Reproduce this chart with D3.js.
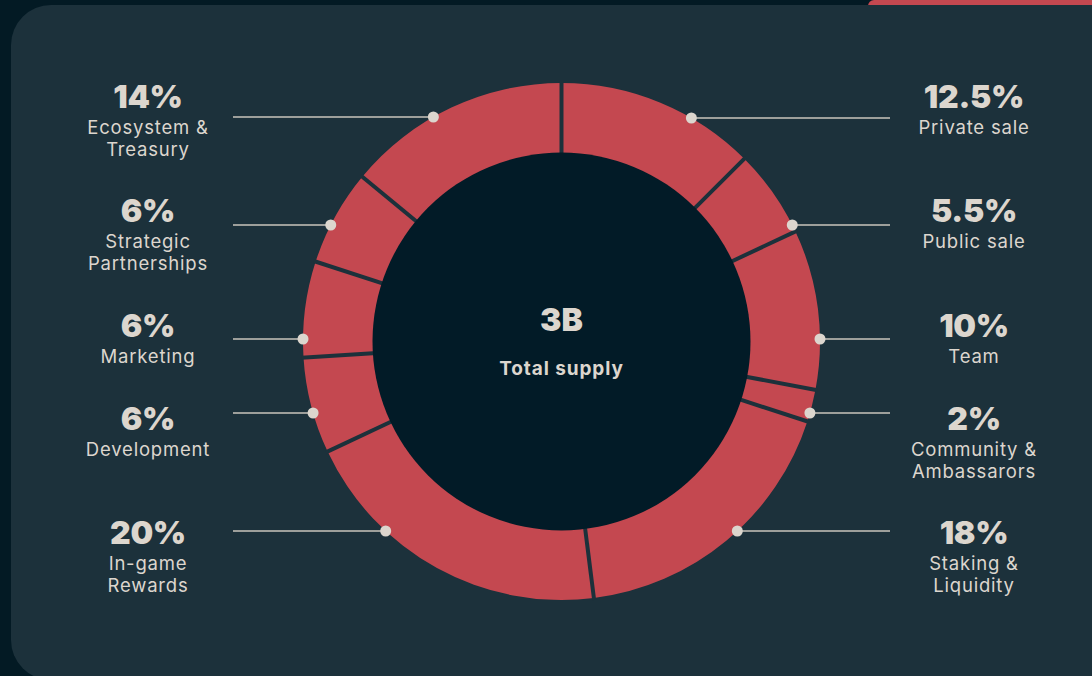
<!DOCTYPE html>
<html>
<head>
<meta charset="utf-8">
<script src="https://cdn.jsdelivr.net/npm/d3@7"></script>
<style>
  html, body { margin: 0; padding: 0; background: #031a24; overflow: hidden; }
  svg { display: block; font-family: "Inter", "Noto Sans", sans-serif; }
</style>
</head>
<body>
<div id="chart"></div>
<script>
// token allocation, clockwise from 12 o'clock
var names = ["Private sale", "Public sale", "Team", "Community & Ambassarors", "Staking & Liquidity",
             "In-game Rewards", "Development", "Marketing", "Strategic Partnerships", "Ecosystem & Treasury"];
var values = [12.5, 5.5, 10, 2, 18, 20, 6, 6, 6, 14];
var pctLabels = ["12.5%", "5.5%", "10%", "2%", "18%", "20%", "6%", "6%", "6%", "14%"];
var nameLines = [["Private sale"], ["Public sale"], ["Team"], ["Community &", "Ambassarors"], ["Staking &", "Liquidity"],
                 ["In-game", "Rewards"], ["Development"], ["Marketing"], ["Strategic", "Partnerships"], ["Ecosystem &", "Treasury"]];
var totalLabel = "3B";
var totalCaption = "Total supply";

// layout (not data): where each callout sits
var side = ["r", "r", "r", "r", "r", "l", "l", "l", "l", "l"];
var rowY = [118, 225, 339, 413, 531, 531, 413, 339, 225, 117];   // leader line
var textY = [108, 222, 337, 430, 544, 544, 430, 337, 222, 108];  // baseline of the % figure

var width = 1092,
    height = 676,
    cx = 561.5, cy = 341.5,
    outerR = 258.5, innerR = 189,
    cardBg = "#1c313b",
    red = "#c44850",
    txt = "#dcd6ce";

var svg = d3.select("#chart").append("svg")
    .attr("width", width)
    .attr("height", height);

svg.append("rect").attr("width", width).attr("height", height).attr("fill", "#031a24");
// red strip peeking above the card
svg.append("rect").attr("x", 868).attr("y", 0).attr("width", 260).attr("height", 40).attr("rx", 6).attr("fill", red);
svg.append("rect")
    .attr("x", 11).attr("y", 5)
    .attr("width", 1120).attr("height", 675)
    .attr("rx", 40)
    .attr("fill", cardBg);

var pie = d3.pie().sort(null).value(function(d) { return d; });
var arcs = pie(values);

var arc = d3.arc().innerRadius(innerR - 2).outerRadius(outerR);

var g = svg.append("g").attr("transform", "translate(" + cx + "," + cy + ")");

g.selectAll("path.slice")
  .data(arcs)
  .enter().append("path")
    .attr("class", "slice")
    .attr("d", arc)
    .attr("fill", red);

// separators between slices
g.selectAll("line.sep")
  .data(arcs)
  .enter().append("line")
    .attr("class", "sep")
    .attr("x1", function(d) { return Math.sin(d.startAngle) * (innerR - 4); })
    .attr("y1", function(d) { return -Math.cos(d.startAngle) * (innerR - 4); })
    .attr("x2", function(d) { return Math.sin(d.startAngle) * (outerR + 2); })
    .attr("y2", function(d) { return -Math.cos(d.startAngle) * (outerR + 2); })
    .attr("stroke", cardBg)
    .attr("stroke-width", 4);

g.append("circle").attr("r", innerR).attr("fill", "#021b27");

g.append("text")
    .attr("y", -10.5)
    .attr("text-anchor", "middle")
    .attr("fill", txt)
    .style("font-size", "32px")
    .style("font-weight", 900)
    .text(totalLabel);

g.append("text")
    .attr("y", 33.5)
    .attr("text-anchor", "middle")
    .attr("fill", txt)
    .style("font-size", "19px")
    .style("font-weight", 700)
    .style("letter-spacing", "0.9px")
    .text(totalCaption);

// callouts
var callouts = svg.selectAll("g.callout")
  .data(values.map(function(v, i) { return i; }))
  .enter().append("g")
    .attr("class", "callout");

function dotX(i) {
  var dy = rowY[i] - cy;
  var dx = Math.sqrt(outerR * outerR - dy * dy);
  return side[i] == "l" ? cx - dx : cx + dx;
}

callouts.append("line")
    .attr("x1", function(i) { return side[i] == "l" ? 233 : 890; })
    .attr("x2", function(i) { return dotX(i); })
    .attr("y1", function(i) { return rowY[i]; })
    .attr("y2", function(i) { return rowY[i]; })
    .attr("stroke", "#c9c4bc")
    .attr("stroke-width", 1.5);

callouts.append("circle")
    .attr("cx", function(i) { return dotX(i); })
    .attr("cy", function(i) { return rowY[i]; })
    .attr("r", 5.5)
    .attr("fill", "#dcd6ce");

callouts.append("text")
    .attr("x", function(i) { return side[i] == "l" ? 148 : 974; })
    .attr("y", function(i) { return textY[i]; })
    .attr("text-anchor", "middle")
    .attr("fill", txt)
    .style("font-size", "32px")
    .style("font-weight", 900)
    .style("letter-spacing", "-0.3px")
    .text(function(i) { return pctLabels[i]; });

callouts.each(function(i) {
  var t = d3.select(this).append("text")
      .attr("text-anchor", "middle")
      .attr("fill", txt)
      .style("font-size", "18.5px")
      .style("letter-spacing", "0.8px");
  nameLines[i].forEach(function(line, k) {
    t.append("tspan")
      .attr("x", side[i] == "l" ? 148 : 974)
      .attr("y", textY[i] + 26 + k * 22)
      .text(line);
  });
});
</script>
</body>
</html>
